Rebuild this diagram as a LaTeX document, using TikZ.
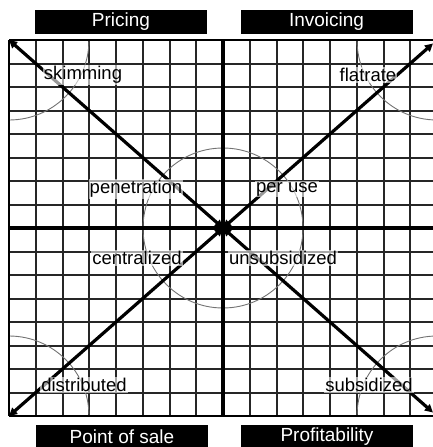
\documentclass[tikz,border=0pt]{standalone}
\usepackage{fontspec}
\setmainfont{Liberation Sans}
\usetikzlibrary{arrows.meta}
\begin{document}
\begin{tikzpicture}[x=1pt,y=-1pt,
  header/.style={fill=black,text=white,minimum width=172pt,minimum height=24pt,inner sep=0pt,font=\fontsize{19}{20}\selectfont},
  lbl/.style={fill=white,fill opacity=0.6,text opacity=1,inner sep=1pt,font=\fontsize{18.5}{20}\selectfont},
  gridline/.style={draw=black!85,line width=2pt},
  axis/.style={line width=4pt},
  diag/.style={line width=3.2pt,{Triangle[length=8pt,width=8pt]}-{Triangle[length=8pt,width=8pt]}},
  ring/.style={draw=black!55,line width=0.9pt}]
\useasboundingbox (0,0) rectangle (433,447);
\coordinate (C) at (223,228);
\coordinate (TL) at (9,40);
\coordinate (TR) at (433,43.5);
\coordinate (BL) at (9,416);
\coordinate (BR) at (433,412.5);
\begin{scope}
\clip (0,0) rectangle (433,447);
% grid
\begin{scope}
\clip (9,40) rectangle (437,416);
\foreach \k in {0,...,16} {
  \draw[gridline] ({9+\k*26.75},40) -- ({9+\k*26.75},416);
  \draw[gridline] (9,{40+\k*23.5}) -- (437,{40+\k*23.5});
}
% rings
\draw[ring] (223,228) circle[radius=80pt];
\draw[ring] (9,40) circle[radius=80pt];
\draw[ring] (437,40) circle[radius=80pt];
\draw[ring] (9,416) circle[radius=80pt];
\draw[ring] (437,416) circle[radius=80pt];
\end{scope}
\draw[line width=2pt] (9,40) -- (437,40);
\draw[line width=2pt] (9,40) -- (9,416);
\draw[line width=2pt] (9,416) -- (437,416);
% axes
\draw[axis] (223,40) -- (223,416);
\draw[axis] (9,228) -- (437,228);
% diagonals
\draw[diag] (C) -- (TL);
\draw[diag] (C) -- (TR);
\draw[diag] (C) -- (BL);
\draw[diag] (C) -- (BR);
% labels
\node[lbl] (skim) at (83,75) {skimming};
\node[lbl] (flat) at (368,75) {flatrate};
\node[lbl] (pen) at (136,189) {penetration};
\node[lbl] (per) at (287,189) {per use};
\node[lbl] (cen) at (137,258) {centralized};
\node[lbl] (uns) at (283,258) {unsubsidized};
\node[lbl] (dis) at (84,385) {distributed};
\node[lbl] (sub) at (369,385) {subsidized};
% headers
\node[header] (pricing) at (121,22) {Pricing};
\node[header] (invoicing) at (326.5,22) {Invoicing};
\node[header] (pos) at (122,437) {Point of sale};
\node[header] (profit) at (327,437) {Profitability};
\end{scope}
\end{tikzpicture}
\end{document}
